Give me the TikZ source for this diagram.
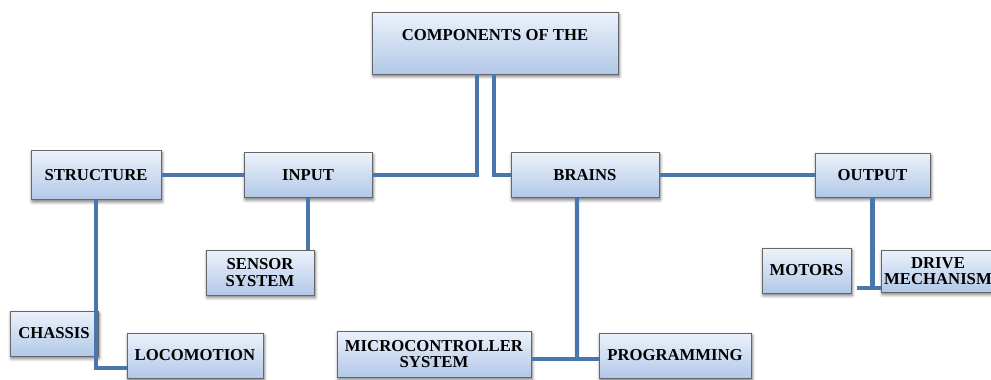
\documentclass[tikz,border=0pt]{standalone}
\usepackage{fontspec}
\setmainfont{Liberation Serif}
\usepackage{xcolor}
\usepackage{tikz}
\usetikzlibrary{shadows.blur}
\definecolor{boxtop}{RGB}{236,242,251}
\definecolor{boxbot}{RGB}{178,200,232}
\definecolor{linkblue}{RGB}{74,118,174}
\tikzstyle{block} = [draw=gray!80!black, top color=boxtop, bottom color=boxbot,
  inner sep=0pt, align=center, font=\bfseries\fontsize{9.5}{9.2}\selectfont,
  blur shadow={shadow xshift=0.6pt, shadow yshift=-1.4pt, shadow blur steps=5, shadow opacity=55}]
\tikzstyle{link} = [draw=linkblue, line width=2.3pt]

\begin{document}
\begin{tikzpicture}[x=0.02cm, y=-0.02cm]
  \useasboundingbox (0,0) rectangle (991,379);

  % top box
  \node[block, minimum width=4.92cm, minimum height=1.24cm] (comp) at (495,43) {COMPONENTS OF THE\\\mbox{}};

  % middle row
  \node[block, minimum width=2.6cm, minimum height=0.98cm] (structure) at (96,175) {STRUCTURE};
  \node[block, minimum width=2.56cm, minimum height=0.9cm] (input) at (308,175) {INPUT};
  \node[block, minimum width=2.96cm, minimum height=0.9cm] (brains) at (585,175) {BRAINS};
  \node[block, minimum width=2.3cm, minimum height=0.88cm] (output) at (872.5,175) {OUTPUT};

  % lower boxes
  \node[block, minimum width=2.16cm, minimum height=0.9cm] (sensor) at (260,272.5) {SENSOR\\SYSTEM};
  \node[block, minimum width=1.78cm, minimum height=0.9cm] (motors) at (806.5,270.5) {MOTORS};
  \node[block, minimum width=2.28cm, minimum height=0.84cm] (drive) at (938,271) {DRIVE\\MECHANISM};
  \node[block, minimum width=1.76cm, minimum height=0.9cm] (chassis) at (54,333.5) {CHASSIS};
  \node[block, minimum width=2.72cm, minimum height=0.9cm] (locomotion) at (195,355.5) {LOCOMOTION};
  \node[block, minimum width=3.88cm, minimum height=0.92cm] (micro) at (434,354) {MICROCONTROLLER\\SYSTEM};
  \node[block, minimum width=3.04cm, minimum height=0.9cm] (programming) at (675,355.5) {PROGRAMMING};

  % links
  \coordinate (bj) at (577,359);
  \coordinate (oj) at (857,288);
  \draw[link] ([xshift=-0.36cm]comp.south) |- (input.east);
  \draw[link] ([xshift=-0.02cm]comp.south) |- (brains.west);
  \draw[link] (structure.east) -- (input.west);
  \draw[link] (brains.east) -- (output.west);
  \draw[link] (structure.south) |- ([yshift=0.2cm]locomotion.south west);
  \draw[link] (input.south) -- (input.south |- sensor.north);
  \draw[link] ([xshift=-0.16cm]brains.south) -- (bj);
  \draw[link] (micro.east |- bj) -- (programming.west |- bj);
  \draw[link] (output.south) |- (oj);
  \draw[link] (output.south |- oj) -- (drive.west |- oj);
\end{tikzpicture}
\end{document}
